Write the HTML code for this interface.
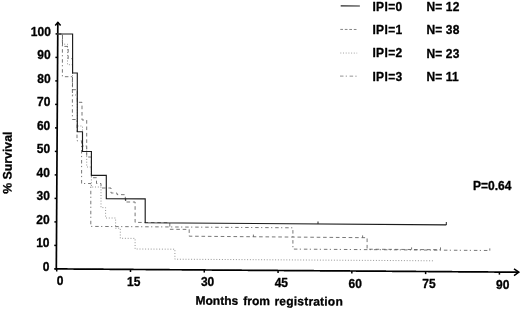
<!DOCTYPE html>
<html><head><meta charset="utf-8"><title>Survival by IPI</title>
<style>html,body{margin:0;padding:0;background:#fff}svg{display:block}</style></head>
<body>
<svg width="520" height="310" viewBox="0 0 520 310">
<rect width="520" height="310" fill="#fff"/>
<path fill="#000" d="M56.96 22.00H58.66V28.04H56.96ZM56.92 28.04H58.62V34.09H56.92ZM56.89 34.09H58.59V40.13H56.89ZM56.85 40.13H58.55V46.17H56.85ZM56.81 46.17H58.51V52.21H56.81ZM56.78 52.21H58.48V58.26H56.78ZM56.74 58.26H58.44V64.30H56.74ZM56.70 64.30H58.40V70.34H56.70ZM56.66 70.34H58.36V76.38H56.66ZM56.63 76.38H58.33V82.43H56.63ZM56.59 82.43H58.29V88.47H56.59ZM56.55 88.47H58.25V94.51H56.55ZM56.51 94.51H58.21V100.55H56.51ZM56.48 100.55H58.18V106.60H56.48ZM56.44 106.60H58.14V112.64H56.44ZM56.40 112.64H58.10V118.68H56.40ZM56.36 118.68H58.06V124.73H56.36ZM56.33 124.73H58.03V130.77H56.33ZM56.29 130.77H57.99V136.81H56.29ZM56.25 136.81H57.95V142.85H56.25ZM56.22 142.85H57.92V148.90H56.22ZM56.18 148.90H57.88V154.94H56.18ZM56.14 154.94H57.84V160.98H56.14ZM56.10 160.98H57.80V167.02H56.10ZM56.07 167.02H57.77V173.07H56.07ZM56.03 173.07H57.73V179.11H56.03ZM55.99 179.11H57.69V185.15H55.99ZM55.95 185.15H57.65V191.20H55.95ZM55.92 191.20H57.62V197.24H55.92ZM55.88 197.24H57.58V203.28H55.88ZM55.84 203.28H57.54V209.32H55.84ZM55.80 209.32H57.50V215.37H55.80ZM55.77 215.37H57.47V221.41H55.77ZM55.73 221.41H57.43V227.45H55.73ZM55.69 227.45H57.39V233.49H55.69ZM55.66 233.49H57.36V239.54H55.66ZM55.62 239.54H57.32V245.58H55.62ZM55.58 245.58H57.28V251.62H55.58ZM55.54 251.62H57.24V257.66H55.54ZM55.51 257.66H57.21V263.71H55.51ZM55.47 263.71H57.17V269.75H55.47Z"/>
<path fill="#000" d="M55.45 268.07H61.46V269.77H55.45ZM61.46 268.11H67.47V269.81H61.46ZM67.47 268.16H73.48V269.86H67.47ZM73.48 268.20H79.49V269.90H73.48ZM79.49 268.24H85.51V269.94H79.49ZM85.51 268.28H91.52V269.98H85.51ZM91.52 268.33H97.53V270.03H91.52ZM97.53 268.37H103.54V270.07H97.53ZM103.54 268.41H109.55V270.11H103.54ZM109.55 268.45H115.56V270.15H109.55ZM115.56 268.50H121.57V270.20H115.56ZM121.57 268.54H127.58V270.24H121.57ZM127.58 268.58H133.59V270.28H127.58ZM133.59 268.63H139.60V270.33H133.59ZM139.60 268.67H145.62V270.37H139.60ZM145.62 268.71H151.63V270.41H145.62ZM151.63 268.75H157.64V270.45H151.63ZM157.64 268.80H163.65V270.50H157.64ZM163.65 268.84H169.66V270.54H163.65ZM169.66 268.88H175.67V270.58H169.66ZM175.67 268.92H181.68V270.62H175.67ZM181.68 268.97H187.69V270.67H181.68ZM187.69 269.01H193.70V270.71H187.69ZM193.70 269.05H199.71V270.75H193.70ZM199.71 269.09H205.73V270.79H199.71ZM205.73 269.14H211.74V270.84H205.73ZM211.74 269.18H217.75V270.88H211.74ZM217.75 269.22H223.76V270.92H217.75ZM223.76 269.26H229.77V270.96H223.76ZM229.77 269.31H235.78V271.01H229.77ZM235.78 269.35H241.79V271.05H235.78ZM241.79 269.39H247.80V271.09H241.79ZM247.80 269.43H253.81V271.13H247.80ZM253.81 269.48H259.83V271.18H253.81ZM259.83 269.52H265.84V271.22H259.83ZM265.84 269.56H271.85V271.26H265.84ZM271.85 269.60H277.86V271.30H271.85ZM277.86 269.65H283.87V271.35H277.86ZM283.87 269.69H289.88V271.39H283.87ZM289.88 269.73H295.89V271.43H289.88ZM295.89 269.78H301.90V271.48H295.89ZM301.90 269.82H307.91V271.52H301.90ZM307.91 269.86H313.92V271.56H307.91ZM313.92 269.90H319.94V271.60H313.92ZM319.94 269.95H325.95V271.65H319.94ZM325.95 269.99H331.96V271.69H325.95ZM331.96 270.03H337.97V271.73H331.96ZM337.97 270.07H343.98V271.77H337.97ZM343.98 270.12H349.99V271.82H343.98ZM349.99 270.16H356.00V271.86H349.99ZM356.00 270.20H362.01V271.90H356.00ZM362.01 270.24H368.02V271.94H362.01ZM368.02 270.29H374.04V271.99H368.02ZM374.04 270.33H380.05V272.03H374.04ZM380.05 270.37H386.06V272.07H380.05ZM386.06 270.41H392.07V272.11H386.06ZM392.07 270.46H398.08V272.16H392.07ZM398.08 270.50H404.09V272.20H398.08ZM404.09 270.54H410.10V272.24H404.09ZM410.10 270.58H416.11V272.28H410.10ZM416.11 270.63H422.12V272.33H416.11ZM422.12 270.67H428.13V272.37H422.12ZM428.13 270.71H434.15V272.41H428.13ZM434.15 270.76H440.16V272.46H434.15ZM440.16 270.80H446.17V272.50H440.16ZM446.17 270.84H452.18V272.54H446.17ZM452.18 270.88H458.19V272.58H452.18ZM458.19 270.93H464.20V272.63H458.19ZM464.20 270.97H470.21V272.67H464.20ZM470.21 271.01H476.22V272.71H470.21ZM476.22 271.05H482.23V272.75H476.22ZM482.23 271.10H488.24V272.80H482.23ZM488.24 271.14H494.26V272.84H488.24ZM494.26 271.18H500.27V272.88H494.26ZM500.27 271.22H506.28V272.92H500.27ZM506.28 271.27H512.29V272.97H506.28ZM512.29 271.31H518.30V273.01H512.29Z"/>
<g stroke="#000" stroke-width="1.5" fill="none">
<path d="M55.23 25.40 L57.88 22.40 L60.63 25.40"/>
<path d="M514.00 268.78 L518.90 272.18 L514.00 275.58"/>
</g>
<g stroke="#000" stroke-width="1.5">
<line x1="54.10" y1="268.90" x2="56.30" y2="268.90"/>
<line x1="54.25" y1="245.40" x2="56.45" y2="245.40"/>
<line x1="54.39" y1="221.90" x2="56.59" y2="221.90"/>
<line x1="54.54" y1="198.40" x2="56.74" y2="198.40"/>
<line x1="54.68" y1="174.90" x2="56.88" y2="174.90"/>
<line x1="54.83" y1="151.40" x2="57.03" y2="151.40"/>
<line x1="54.97" y1="127.90" x2="57.17" y2="127.90"/>
<line x1="55.12" y1="104.40" x2="57.32" y2="104.40"/>
<line x1="55.27" y1="80.90" x2="57.47" y2="80.90"/>
<line x1="55.41" y1="57.40" x2="57.61" y2="57.40"/>
<line x1="55.56" y1="33.90" x2="57.76" y2="33.90"/>
<line x1="56.70" y1="268.90" x2="56.70" y2="271.50"/>
<line x1="130.49" y1="269.43" x2="130.49" y2="272.03"/>
<line x1="204.27" y1="269.95" x2="204.27" y2="272.55"/>
<line x1="278.06" y1="270.47" x2="278.06" y2="273.07"/>
<line x1="351.84" y1="271.00" x2="351.84" y2="273.60"/>
<line x1="425.62" y1="271.52" x2="425.62" y2="274.12"/>
<line x1="499.41" y1="272.05" x2="499.41" y2="274.65"/>
</g>
<path d="M57.60 34.00 L62.50 34.00 L62.50 44.20 L67.50 44.20 L67.50 64.70 L72.50 64.70 L72.50 95.00 L77.30 95.00 L77.30 126.00 L82.50 126.00 L82.50 146.00 L86.70 146.00 L86.70 167.00 L91.40 167.00 L91.40 187.00 L101.00 187.00 L101.00 207.60 L105.60 207.60 L105.60 218.00 L115.60 218.00 L115.60 228.20 L120.30 228.20 L120.30 238.30 L135.10 238.40 L135.10 249.00 L174.90 249.20 L174.90 259.20 L434.20 260.80" fill="none" stroke="#8a8a8a" stroke-width="0.9" stroke-dasharray="1 1.8"/>
<path d="M57.60 34.00 L62.50 34.00 L62.50 46.40 L68.20 46.40 L68.20 58.70 L72.50 58.70 L72.50 89.70 L77.30 89.70 L77.30 102.30 L82.00 102.30 L82.00 120.00 L86.70 120.00 L86.70 157.00 L91.40 157.00 L91.40 177.70 L96.50 177.70 L96.50 183.50 L101.00 183.50 L101.00 188.00 L111.00 188.00 L111.00 193.00 L117.00 193.00 L117.00 194.60 L125.30 194.70 L125.30 202.00 L135.10 202.00 L135.10 222.40 L169.80 222.70 L169.80 229.30 L189.20 229.40 L189.20 236.20 L367.10 237.70 L367.10 249.20 L440.50 249.70" fill="none" stroke="#606060" stroke-width="0.85" stroke-dasharray="3.6 2.8"/>
<path d="M57.60 34.00 L62.40 34.00 L62.40 76.70 L72.40 76.70 L72.40 119.50 L77.00 119.50 L77.00 140.80 L81.60 140.80 L81.60 183.50 L90.80 183.50 L90.80 226.40 L292.90 227.80 L292.90 249.10 L489.80 250.50" fill="none" stroke="#606060" stroke-width="0.85" stroke-dasharray="3.5 2.4 1.2 2.9"/>
<path d="M57.60 34.00 L72.60 34.00 L72.60 73.00 L77.30 73.00 L77.30 131.70 L82.50 131.70 L82.50 151.50 L91.40 151.50 L91.40 175.30 L106.30 175.30 L106.30 198.70 L145.20 198.80 L145.20 222.70 L446.30 224.90" fill="none" stroke="#1c1c1c" stroke-width="1.15" stroke-linejoin="miter"/>
<g stroke="#222" stroke-width="1">
<line x1="125.70" y1="198.80" x2="125.70" y2="200.80"/>
<line x1="318.00" y1="223.90" x2="318.00" y2="221.50"/>
<line x1="446.30" y1="225.00" x2="446.30" y2="222.00"/>
</g>
<g stroke="#666" stroke-width="0.9">
<line x1="253.40" y1="237.00" x2="253.40" y2="234.60"/>
<line x1="362.60" y1="237.80" x2="362.60" y2="235.40"/>
<line x1="411.60" y1="249.60" x2="411.60" y2="247.40"/>
<line x1="440.50" y1="249.80" x2="440.50" y2="247.40"/>
<line x1="489.80" y1="250.60" x2="489.80" y2="248.40"/>
</g>
<g font-family="'Liberation Sans', Arial, sans-serif" font-weight="bold" font-size="12" fill="#000" stroke="#000" stroke-width="0.3" stroke-linejoin="round">
<text x="49.40" y="270.90" text-anchor="end">0</text>
<text x="49.55" y="247.40" text-anchor="end">10</text>
<text x="49.69" y="223.90" text-anchor="end">20</text>
<text x="49.84" y="200.40" text-anchor="end">30</text>
<text x="49.98" y="176.90" text-anchor="end">40</text>
<text x="50.13" y="153.40" text-anchor="end">50</text>
<text x="50.27" y="129.90" text-anchor="end">60</text>
<text x="50.42" y="106.40" text-anchor="end">70</text>
<text x="50.57" y="82.90" text-anchor="end">80</text>
<text x="50.71" y="59.40" text-anchor="end">90</text>
<text x="50.86" y="35.90" text-anchor="end">100</text>
<text x="60.00" y="285.40" text-anchor="middle">0</text>
<text x="133.79" y="285.93" text-anchor="middle">15</text>
<text x="207.57" y="286.45" text-anchor="middle">30</text>
<text x="281.36" y="286.97" text-anchor="middle">45</text>
<text x="355.14" y="287.50" text-anchor="middle">60</text>
<text x="428.92" y="288.02" text-anchor="middle">75</text>
<text x="502.71" y="288.55" text-anchor="middle">90</text>
<text x="195.5" y="304.6" transform="rotate(0.4 196 305)" font-size="12" >Months <tspan x="243.3">from</tspan> <tspan x="274.5" letter-spacing="0.2">registration</tspan></text>
<text transform="translate(11.5 193.8) rotate(-89.65)" font-size="12.3">% Survival</text>
<text x="473" y="189.7">P=0.64</text>
<text x="372.4" y="10.80" letter-spacing="0.38">IPI=0</text>
<text x="426.4" y="11.10" letter-spacing="0.15">N= 12</text>
<text x="372.4" y="34.10" letter-spacing="0.38">IPI=1</text>
<text x="426.4" y="34.40" letter-spacing="0.15">N= 38</text>
<text x="372.4" y="57.40" letter-spacing="0.38">IPI=2</text>
<text x="426.4" y="57.70" letter-spacing="0.15">N= 23</text>
<text x="372.4" y="80.70" letter-spacing="0.38">IPI=3</text>
<text x="426.4" y="81.00" letter-spacing="0.15">N= 11</text>
</g>
<line x1="340.7" y1="5.90" x2="359.9" y2="6.00" stroke="#222" stroke-width="1.1"/>
<line x1="340.3" y1="29.40" x2="356.5" y2="29.50" stroke="#777" stroke-width="0.9" stroke-dasharray="2.7 1.8"/>
<line x1="340.3" y1="53.00" x2="357.2" y2="53.10" stroke="#999" stroke-width="0.9" stroke-dasharray="1 1.7"/>
<line x1="340.0" y1="76.10" x2="358.7" y2="76.20" stroke="#888" stroke-width="0.9" stroke-dasharray="3.5 2.2 1.3 2.6"/>
</svg>
</body></html>
